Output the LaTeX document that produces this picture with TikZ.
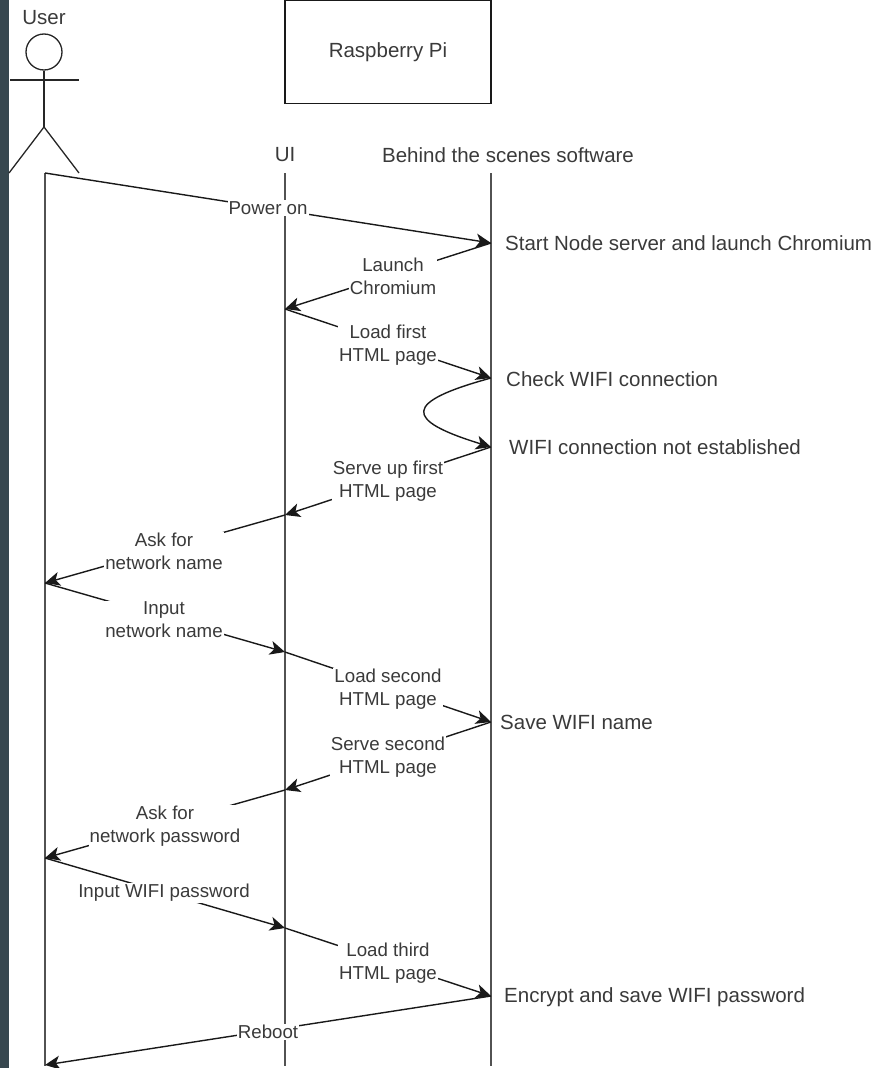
\documentclass[tikz,border=0pt]{standalone}
\usepackage{fontspec}
\setmainfont{Liberation Sans}
\usetikzlibrary{arrows.meta}
\definecolor{band}{HTML}{37474F}
\definecolor{ink}{HTML}{3A3A3A}
\tikzset{
  life/.style={draw=black!68,line width=1.6pt},
  shapeline/.style={draw=black!85,line width=1.3pt},
  msg/.style={draw=black!90,line width=1.4pt,-{Stealth[length=15pt,width=14pt,inset=4pt]}},
  lab/.style={fill=white,inner sep=1pt,align=center,text=ink,font=\fontsize{18.7}{23}\selectfont},
  txt/.style={inner sep=0pt,text=ink,font=\fontsize{20.5}{24}\selectfont},
  side/.style={txt,anchor=west}
}
\begin{document}
\begin{tikzpicture}[x=1pt,y=-1pt]
\useasboundingbox (0,0) rectangle (878,1068);
\fill[band] (0,0) rectangle (9,1068);
% actor
\node[draw=black!85,line width=1.3pt,circle,minimum size=36pt,inner sep=0pt] (head) at (44,52) {};
\coordinate (armL) at (10,80);
\coordinate (armR) at (79,80);
\coordinate (hip) at (44,127);
\coordinate (legL) at (9,173);
\coordinate (legR) at (79,173);
\draw[shapeline] (head.south) -- (hip);
\draw[shapeline] (armL) -- (armR);
\draw[shapeline] (legL) -- (hip) -- (legR);
\node[txt] (user) at (44,18) {User};
% box
\node[draw=black!90,line width=1.4pt,minimum width=206pt,minimum height=103pt,inner sep=0pt,text=ink,font=\fontsize{20.5}{24}\selectfont] (pi) at (388,52) {Raspberry Pi};
% lifelines
\coordinate (a0) at (45,173); \coordinate (aEnd) at (45,1066);
\coordinate (b0) at (285,173); \coordinate (bEnd) at (285,1066);
\coordinate (c0) at (491,173); \coordinate (cEnd) at (491,1066);
\draw[life] (a0) -- (aEnd);
\draw[life] (b0) -- (bEnd);
\draw[life] (c0) -- (cEnd);
\node[txt] (ui) at (285,155) {UI};
\node[txt] (bts) at (508,155) {Behind the scenes software};
% points
\coordinate (c1) at (491,243);
\coordinate (b1) at (285,309);
\coordinate (c2) at (491,378);
\coordinate (c3) at (491,447);
\coordinate (b2) at (285,515);
\coordinate (a1) at (45,583);
\coordinate (b3) at (285,652);
\coordinate (c4) at (491,722);
\coordinate (b4) at (285,790);
\coordinate (a2) at (45,858);
\coordinate (b5) at (285,928);
\coordinate (c5) at (491,996);
\coordinate (a3) at (45,1065);
% messages
\draw[msg] (a0) -- (c1);
\draw[msg] (c1) -- (b1);
\draw[msg] (b1) -- (c2);
\draw[msg] (c2) .. controls (403,402) and (403,420) .. (c3);
\draw[msg] (c3) -- (b2);
\draw[msg] (b2) -- (a1);
\draw[msg] (a1) -- (b3);
\draw[msg] (b3) -- (c4);
\draw[msg] (c4) -- (b4);
\draw[msg] (b4) -- (a2);
\draw[msg] (a2) -- (b5);
\draw[msg] (b5) -- (c5);
\draw[msg] (c5) -- (a3);
% labels
\node[lab] (l1) at (268,208) {Power on};
\node[lab] (l2) at (393,276) {Launch\\Chromium};
\node[lab] (l3) at (388,345) {Load first\\HTML page};
\node[lab] (l4) at (388,481) {Serve up first\\HTML page};
\node[lab] (l5) at (164,551) {Ask for\\network name};
\node[lab] (l6) at (164,620) {Input\\network name};
\node[lab] (l7) at (388,689) {Load second\\HTML page};
\node[lab] (l8) at (388,757) {Serve second\\HTML page};
\node[lab] (l9) at (165,826) {Ask for\\network password};
\node[lab] (l10) at (164,893) {Input WIFI password};
\node[lab] (l11) at (388,963) {Load third\\HTML page};
\node[lab] (l12) at (268,1032) {Reboot};
% side notes
\node[side] (s1) at (505,243) {Start Node server and launch Chromium};
\node[side] (s2) at (506,379) {Check WIFI connection};
\node[side] (s3) at (509,447) {WIFI connection not established};
\node[side] (s4) at (500,722) {Save WIFI name};
\node[side] (s5) at (504,997) {Encrypt and save WIFI password};
\end{tikzpicture}
\end{document}
